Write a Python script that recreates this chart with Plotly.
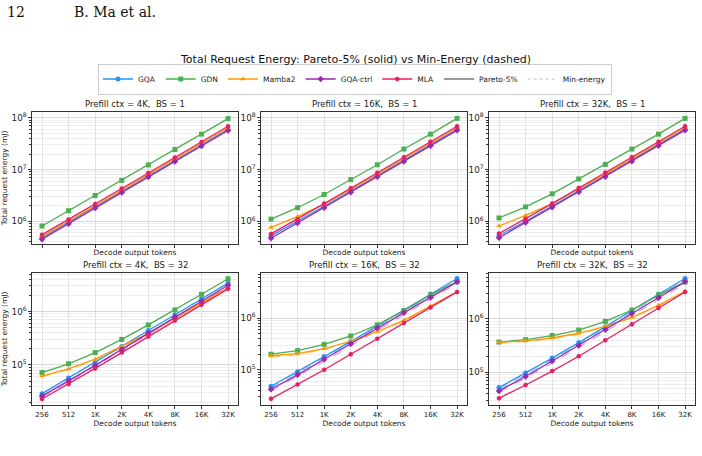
import plotly.graph_objects as go

# ---------------- data ----------------
tokens = [256, 512, 1024, 2048, 4096, 8192, 16384, 32768]
tick_labels = ["256", "512", "1K", "2K", "4K", "8K", "16K", "32K"]
series_names = ["GQA", "GDN", "Mamba2", "GQA-ctrl", "MLA"]
panel_titles = ["Prefill ctx = 4K,  BS = 1", "Prefill ctx = 16K,  BS = 1", "Prefill ctx = 32K,  BS = 1",
                "Prefill ctx = 4K,  BS = 32", "Prefill ctx = 16K,  BS = 32", "Prefill ctx = 32K,  BS = 32"]

# Pareto-5% (solid), energy in mJ
p4k_bs1 = {
    "GQA":      [4.8e5, 9.5e5, 1.9e6, 3.75e6, 7.5e6, 1.5e7, 3.0e7, 6.0e7],
    "GDN":      [8.1e5, 1.6e6, 3.15e6, 6.2e6, 1.23e7, 2.45e7, 4.85e7, 9.7e7],
    "Mamba2":   [5.1e5, 1.0e6, 2.0e6, 4.0e6, 8.0e6, 1.6e7, 3.2e7, 6.4e7],
    "GQA-ctrl": [4.5e5, 9.0e5, 1.8e6, 3.6e6, 7.2e6, 1.43e7, 2.85e7, 5.7e7],
    "MLA":      [5.5e5, 1.08e6, 2.15e6, 4.3e6, 8.6e6, 1.72e7, 3.44e7, 6.9e7],
}
p16k_bs1 = {
    "GQA":      [5.2e5, 9.9e5, 1.95e6, 3.85e6, 7.6e6, 1.52e7, 3.03e7, 6.05e7],
    "GDN":      [1.1e6, 1.83e6, 3.3e6, 6.4e6, 1.24e7, 2.5e7, 4.85e7, 9.8e7],
    "Mamba2":   [7.6e5, 1.23e6, 2.15e6, 4.15e6, 8.1e6, 1.62e7, 3.22e7, 6.45e7],
    "GQA-ctrl": [4.7e5, 9.3e5, 1.83e6, 3.65e6, 7.25e6, 1.44e7, 2.88e7, 5.75e7],
    "MLA":      [5.7e5, 1.1e6, 2.2e6, 4.35e6, 8.7e6, 1.73e7, 3.45e7, 6.9e7],
}
p32k_bs1 = {
    "GQA":      [5.3e5, 1.0e6, 1.98e6, 3.9e6, 7.7e6, 1.53e7, 3.05e7, 6.1e7],
    "GDN":      [1.16e6, 1.9e6, 3.4e6, 6.6e6, 1.26e7, 2.5e7, 4.85e7, 9.8e7],
    "Mamba2":   [8.1e5, 1.3e6, 2.2e6, 4.2e6, 8.2e6, 1.63e7, 3.23e7, 6.45e7],
    "GQA-ctrl": [4.8e5, 9.5e5, 1.87e6, 3.7e6, 7.3e6, 1.45e7, 2.9e7, 5.8e7],
    "MLA":      [5.8e5, 1.12e6, 2.2e6, 4.4e6, 8.75e6, 1.74e7, 3.46e7, 6.9e7],
}
p4k_bs32 = {
    "GQA":      [2.9e4, 5.7e4, 1.1e5, 2.2e5, 4.4e5, 8.7e5, 1.73e6, 3.4e6],
    "GDN":      [7.2e4, 1.05e5, 1.7e5, 3.0e5, 5.6e5, 1.07e6, 2.1e6, 4.1e6],
    "Mamba2":   [6.2e4, 8.4e4, 1.28e5, 2.2e5, 3.9e5, 7.5e5, 1.44e6, 2.8e6],
    "GQA-ctrl": [2.6e4, 5.0e4, 9.8e4, 1.95e5, 3.9e5, 7.8e5, 1.55e6, 3.1e6],
    "MLA":      [2.3e4, 4.4e4, 8.6e4, 1.7e5, 3.4e5, 6.8e5, 1.34e6, 2.65e6],
}
p16k_bs32 = {
    "GQA":      [4.8e4, 9.2e4, 1.8e5, 3.5e5, 7.1e5, 1.42e6, 2.9e6, 5.8e6],
    "GDN":      [2.0e5, 2.35e5, 3.1e5, 4.5e5, 7.4e5, 1.39e6, 2.8e6, 5.0e6],
    "Mamba2":   [1.87e5, 2.05e5, 2.55e5, 3.6e5, 5.5e5, 9.0e5, 1.7e6, 3.2e6],
    "GQA-ctrl": [4.2e4, 8.0e4, 1.6e5, 3.2e5, 6.4e5, 1.27e6, 2.5e6, 5.0e6],
    "MLA":      [2.75e4, 5.2e4, 1.0e5, 2.0e5, 4.0e5, 8.0e5, 1.6e6, 3.2e6],
}
p32k_bs32 = {
    "GQA":      [5.2e4, 9.7e4, 1.85e5, 3.6e5, 7.1e5, 1.44e6, 2.9e6, 5.7e6],
    "GDN":      [3.7e5, 4.1e5, 4.9e5, 6.2e5, 9.0e5, 1.47e6, 2.8e6, 4.9e6],
    "Mamba2":   [3.65e5, 3.9e5, 4.4e5, 5.4e5, 7.3e5, 1.07e6, 1.8e6, 3.3e6],
    "GQA-ctrl": [4.5e4, 8.4e4, 1.63e5, 3.2e5, 6.3e5, 1.26e6, 2.5e6, 5.0e6],
    "MLA":      [3.3e4, 5.8e4, 1.06e5, 2.0e5, 4.0e5, 8.0e5, 1.6e6, 3.2e6],
}

# Min-energy (dashed): only curves visibly separated from the solid ones
m4k_bs32 = {
    "GQA-ctrl": [2.5e4, 4.8e4, 9.4e4, 1.87e5, 3.7e5, 7.4e5, 1.47e6, 2.95e6],
    "Mamba2":   [6.0e4, 8.1e4, 1.24e5, 2.1e5, 3.8e5, 7.3e5, 1.4e6, 2.7e6],
}
m16k_bs32 = {
    "GQA":      [4.5e4, 8.7e4, 1.7e5, 3.3e5, 6.7e5, 1.34e6, 2.7e6, 5.4e6],
    "GQA-ctrl": [3.9e4, 7.4e4, 1.45e5, 2.9e5, 5.8e5, 1.15e6, 2.3e6, 4.6e6],
    "Mamba2":   [1.75e5, 1.95e5, 2.45e5, 3.45e5, 5.3e5, 8.7e5, 1.65e6, 3.1e6],
}
m32k_bs32 = {
    "GQA":      [4.8e4, 9.0e4, 1.72e5, 3.35e5, 6.6e5, 1.34e6, 2.7e6, 5.3e6],
    "GQA-ctrl": [4.2e4, 7.8e4, 1.5e5, 2.95e5, 5.8e5, 1.15e6, 2.3e6, 4.6e6],
    "Mamba2":   [3.5e5, 3.75e5, 4.25e5, 5.2e5, 7.1e5, 1.04e6, 1.75e6, 3.2e6],
}

pareto = [p4k_bs1, p16k_bs1, p32k_bs1, p4k_bs32, p16k_bs32, p32k_bs32]
minen = [{}, {}, {}, m4k_bs32, m16k_bs32, m32k_bs32]

# ---------------- style ----------------
colors = {"GQA": "#2196F3", "GDN": "#4CAF50", "Mamba2": "#FF9800", "GQA-ctrl": "#9C27B0", "MLA": "#E91E63"}
dash_colors = {"GQA": "rgba(33,150,243,0.55)", "GDN": "rgba(76,175,80,0.55)", "Mamba2": "rgba(255,152,0,0.55)",
               "GQA-ctrl": "rgba(156,39,176,0.45)", "MLA": "rgba(233,30,99,0.55)"}
symbols = {"GQA": "circle", "GDN": "square", "Mamba2": "triangle-up", "GQA-ctrl": "diamond", "MLA": "hexagon"}

FONT = "DejaVu Sans"
W, H = 702, 456
col_px = [(32, 238), (261, 467), (489, 695)]
row_px = [(112, 244), (273, 405)]
yranges = [[5.56, 8.115], [5.56, 8.115], [5.56, 8.115], [4.25, 6.72], [4.32, 6.87], [4.39, 6.86]]
xrange_log = [2.295, 4.628]

fig = go.Figure()
layout = dict(
    width=W, height=H, margin=dict(l=0, r=0, t=0, b=0),
    paper_bgcolor="white", plot_bgcolor="white",
    font=dict(family=FONT, size=8, color="#222"),
    showlegend=True,
)

annotations = []
for i in range(6):
    r, c = divmod(i, 3)
    ax = "" if i == 0 else str(i + 1)
    xname, yname = "xaxis" + ax, "yaxis" + ax
    x0, x1 = col_px[c]
    y0, y1 = row_px[r]
    layout[xname] = dict(
        type="log", domain=[x0 / W, x1 / W], range=xrange_log, anchor="y" + ax,
        tickvals=tokens, ticktext=tick_labels, showticklabels=(r == 1),
        showgrid=True, gridcolor="#e3e3e3", gridwidth=1,
        showline=True, mirror=True, linecolor="#333", linewidth=1,
        ticks="outside", ticklen=3, tickcolor="#333", tickfont=dict(size=7),
        title=dict(text="Decode output tokens", font=dict(size=7.5), standoff=2),
        zeroline=False,
    )
    layout[yname] = dict(
        type="log", domain=[1 - y1 / H, 1 - y0 / H], range=yranges[i], anchor="x" + ax,
        dtick=1, exponentformat="power", showexponent="all",
        showgrid=True, gridcolor="#d8d8d8", gridwidth=1,
        minor=dict(dtick="D1", showgrid=True, gridcolor="#eeeeee", ticks="outside", ticklen=2, tickcolor="#333"),
        showline=True, mirror=True, linecolor="#333", linewidth=1,
        ticks="outside", ticklen=3, tickcolor="#333", tickfont=dict(size=7),
        zeroline=False,
    )
    if c == 0:
        layout[yname]["title"] = dict(text="Total request energy (mJ)", font=dict(size=7.5), standoff=2)
    annotations.append(dict(text=panel_titles[i], x=(x0 + x1) / 2 / W, y=1 - (y0 - 8) / H,
                            xref="paper", yref="paper", showarrow=False, font=dict(size=8.5, color="#222"),
                            xanchor="center", yanchor="middle"))

    for name in series_names:
        if name in minen[i]:
            fig.add_trace(go.Scatter(
                x=tokens, y=minen[i][name], mode="lines", xaxis="x" + ax, yaxis="y" + ax,
                line=dict(color=dash_colors[name], width=1.1, dash="dash"), showlegend=False, hoverinfo="skip"))
    for name in series_names:
        fig.add_trace(go.Scatter(
            x=tokens, y=pareto[i][name], mode="lines+markers", xaxis="x" + ax, yaxis="y" + ax,
            name=name, legendgroup=name, showlegend=(i == 0),
            line=dict(color=colors[name], width=1.3),
            marker=dict(symbol=symbols[name], size=5, color=colors[name])))

# legend-only style entries
fig.add_trace(go.Scatter(x=[None], y=[None], mode="lines", name="Pareto-5%",
                         line=dict(color="#777", width=1.3)))
fig.add_trace(go.Scatter(x=[None], y=[None], mode="lines", name="Min-energy",
                         line=dict(color="#bbb", width=1, dash="dot")))

annotations += [
    dict(text="Total Request Energy: Pareto-5% (solid) vs Min-Energy (dashed)", x=355 / W, y=1 - 60 / H,
         xref="paper", yref="paper", showarrow=False, font=dict(size=11, color="#111"),
         xanchor="center", yanchor="middle"),
    dict(text="12", x=5 / W, y=1 - 12 / H, xref="paper", yref="paper", showarrow=False,
         font=dict(family="DejaVu Serif", size=14, color="#111"), xanchor="left", yanchor="middle"),
    dict(text="B. Ma et al.", x=72 / W, y=1 - 12 / H, xref="paper", yref="paper", showarrow=False,
         font=dict(family="DejaVu Serif", size=14, color="#111"), xanchor="left", yanchor="middle"),
]
layout["annotations"] = annotations
layout["legend"] = dict(orientation="h", x=355 / W, y=1 - 79 / H, xanchor="center", yanchor="middle",
                        bordercolor="#cccccc", borderwidth=1, font=dict(size=7.5), itemwidth=30,
                        tracegroupgap=0, bgcolor="white")
fig.update_layout(**layout)
fig.write_html("out.html")
